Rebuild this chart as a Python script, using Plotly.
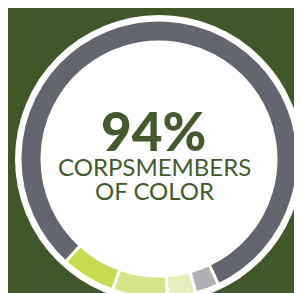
import plotly.graph_objects as go

# Data (clockwise starting at bottom-right)
categories = ["Group E", "Group D", "Group C", "Group B", "Group A"]
values = [2.8, 3.3, 6.4, 6.3, 81.2]
colors = ["#b1afb6", "#e5edc1", "#d8e48b", "#c8da50", "#63666e"]
center_big = "94%"
center_line1 = "CORPSMEMBERS"
center_line2 = "OF COLOR"
side_label = "6%"

W, H = 302, 293
BG = "#40572a"
TXT = "#44592d"
cx, cy = 151, 151
r_gray = 139
r_white = 144
r_inner = 117


def px_x(x):
    return x / W


def px_y(y):
    return 1 - y / H


fig = go.Figure()
fig.add_trace(go.Pie(
    labels=categories,
    values=values,
    marker=dict(colors=colors, line=dict(color="white", width=3)),
    hole=r_inner / r_gray,
    sort=False,
    direction="clockwise",
    rotation=154.6,
    textinfo="none",
    hoverinfo="skip",
    showlegend=False,
    domain=dict(x=[px_x(cx - r_gray), px_x(cx + r_gray)],
                y=[max(0, px_y(cy + r_gray)), px_y(cy - r_gray)]),
))

fig.add_shape(type="circle", xref="paper", yref="paper", layer="below",
              x0=px_x(cx - r_white), x1=px_x(cx + r_white),
              y0=px_y(cy + r_white), y1=px_y(cy - r_white),
              fillcolor="white", line=dict(width=0))

tx = 146
fig.add_annotation(text=center_big, x=px_x(tx - 1), y=px_y(122), xref="paper", yref="paper",
                   showarrow=False, xanchor="center", yanchor="middle",
                   font=dict(family="Lato", size=53, color=TXT, weight=900))
fig.add_annotation(text=center_line1, x=px_x(tx), y=px_y(158), xref="paper", yref="paper",
                   showarrow=False, xanchor="center", yanchor="middle",
                   font=dict(family="Lato", size=24, color=TXT))
fig.add_annotation(text=center_line2, x=px_x(tx), y=px_y(182), xref="paper", yref="paper",
                   showarrow=False, xanchor="center", yanchor="middle",
                   font=dict(family="Lato", size=24, color=TXT))
fig.add_annotation(text=f"<b>{side_label}</b>", x=px_x(60), y=px_y(287), xref="paper", yref="paper",
                   showarrow=False, xanchor="center", yanchor="top",
                   font=dict(family="Lato", size=14, color="white"))

fig.update_layout(width=W, height=H, margin=dict(l=0, r=0, t=0, b=0),
                  paper_bgcolor=BG, plot_bgcolor=BG)

fig.write_html("out.html", config={"displayModeBar": False})
